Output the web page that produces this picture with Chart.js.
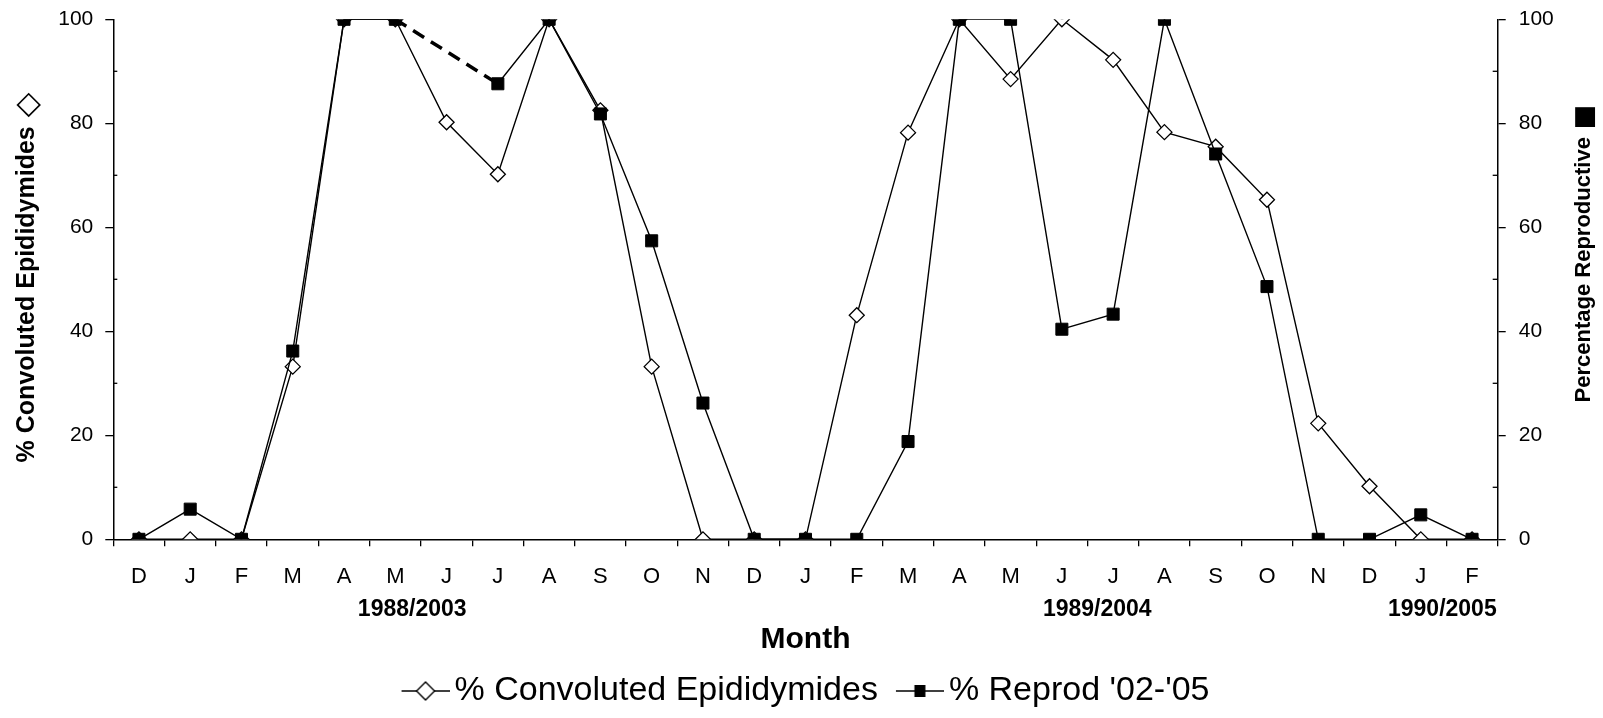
<!DOCTYPE html>
<html>
<head>
<meta charset="utf-8">
<script src="https://cdn.jsdelivr.net/npm/chart.js@4.4.1/dist/chart.umd.min.js"></script>
<style>
  html, body { margin: 0; padding: 0; background: #fff; }
  #wrap { width: 1603px; height: 718px; position: relative; }
</style>
</head>
<body>
<div id="wrap"><canvas id="c"></canvas></div>
<script>
// ---- data ----
const months = ['D','J','F','M','A','M','J','J','A','S','O','N','D','J','F','M','A','M','J','J','A','S','O','N','D','J','F'];
const convoluted = [0,0,0,33.2,100,100,80.2,70.2,100,82.5,33.2,0,0,0,43.1,78.2,100,88.5,100,92.2,78.3,75.5,65.3,22.3,10.2,0,0];
const reprod = [0,5.8,0,36.2,100,100,null,87.6,100,81.8,57.4,26.2,0,0,0,18.8,100,100,40.4,43.3,100,74.1,48.6,0,0,4.7,0];
const yTicks = [0,20,40,60,80,100];
const yMinorTicks = [10,30,50,70,90];
const yearLabels = ['1988/2003','1989/2004','1990/2005'];
const seriesNames = ['% Convoluted Epididymides', "% Reprod '02-'05"];
const leftTitle = '% Convoluted Epididymides';
const leftSymbol = '\u25C7';
const rightTitle = 'Percentage Reproductive';
const rightSymbol = '\u25A0';
const xTitle = 'Month';

const FONT = '"Liberation Sans", Arial, Helvetica, sans-serif';
Chart.defaults.font.family = FONT;
Chart.defaults.color = '#000';

// legend icons: line + marker
function makeIcon(kind) {
  const c = document.createElement('canvas');
  c.width = 68; c.height = 24;
  const g = c.getContext('2d');
  const cx = 44, cy = 12;
  g.strokeStyle = '#000'; g.lineWidth = 1.5;
  g.beginPath(); g.moveTo(20, cy); g.lineTo(68, cy); g.stroke();
  if (kind === 'diamond') {
    const r = 9;
    g.beginPath();
    g.moveTo(cx, cy - r); g.lineTo(cx + r, cy); g.lineTo(cx, cy + r); g.lineTo(cx - r, cy); g.closePath();
    g.fillStyle = '#fff'; g.fill(); g.lineWidth = 1.4; g.stroke();
  } else {
    g.fillStyle = '#000'; g.fillRect(cx - 5.5, cy - 6, 11, 12);
  }
  return c;
}
const icons = [makeIcon('diamond'), makeIcon('square')];

function drawRotTitle(ctx, text, sym, cx, cy, textFont, symFont, gap) {
  ctx.save();
  ctx.translate(cx, cy);
  ctx.rotate(-Math.PI / 2);
  ctx.textAlign = 'left'; ctx.textBaseline = 'middle';
  ctx.font = textFont; const tw = ctx.measureText(text).width;
  ctx.font = symFont; const sw = ctx.measureText(sym).width;
  const x0 = -(tw + gap + sw) / 2;
  ctx.font = textFont; ctx.fillText(text, x0, 0);
  ctx.font = symFont; ctx.fillText(sym, x0 + tw + gap, 1);
  ctx.restore();
}

const extras = {
  id: 'extras',
  afterDraw(chart) {
    const ctx = chart.ctx;
    const x = chart.scales.x, yl = chart.scales.y, yr = chart.scales.y1;
    ctx.save();
    // minor ticks (inside)
    ctx.strokeStyle = '#000'; ctx.lineWidth = 1.3;
    yMinorTicks.forEach(v => {
      const py = yl.getPixelForValue(v);
      ctx.beginPath(); ctx.moveTo(yl.right, py); ctx.lineTo(yl.right + 4, py); ctx.stroke();
      const py2 = yr.getPixelForValue(v);
      ctx.beginPath(); ctx.moveTo(yr.left, py2); ctx.lineTo(yr.left - 5, py2); ctx.stroke();
    });
    // year labels under the month ticks
    const yearAt = [5.33, 18.69, 25.42];
    ctx.fillStyle = '#000';
    ctx.font = 'bold 23px ' + FONT;
    ctx.textAlign = 'center'; ctx.textBaseline = 'middle';
    yearLabels.forEach((t, i) => ctx.fillText(t, x.getPixelForValue(yearAt[i]), 610));
    // axis titles, both reading bottom to top
    drawRotTitle(ctx, leftTitle, leftSymbol, 27.5, 277.5, 'bold 25px ' + FONT, '32px "DejaVu Sans"', 9);
    drawRotTitle(ctx, rightTitle, rightSymbol, 1584, 253.5, 'bold 22px ' + FONT, '26px "DejaVu Sans"', 8);
    ctx.restore();
  }
};

function yScale(position, extra) {
  return Object.assign({
    type: 'linear', position, min: 0, max: 100,
    afterBuildTicks: s => { s.ticks = yTicks.map(v => ({ value: v })); },
    grid: { drawOnChartArea: false, drawTicks: true, tickLength: 8, color: '#000', lineWidth: 1.3 },
    border: { display: true, color: '#000', width: 1.5 },
    ticks: { font: { size: 21 }, color: '#000', padding: 12 },
    title: { display: false }
  }, extra);
}

const gapDash = (c, v) => (c.p0.skip || c.p1.skip ? v : undefined);

new Chart(document.getElementById('c'), {
  type: 'line',
  data: {
    labels: months,
    datasets: [
      {
        label: seriesNames[0], data: convoluted, yAxisID: 'y',
        borderColor: '#000', borderWidth: 1.4,
        pointStyle: 'rectRot', pointRadius: 7.5,
        pointBackgroundColor: '#fff', pointBorderColor: '#000', pointBorderWidth: 1.3,
        tension: 0, order: 1
      },
      {
        label: seriesNames[1], data: reprod, yAxisID: 'y1',
        borderColor: '#000', borderWidth: 1.4, spanGaps: true,
        pointStyle: 'rect', pointRadius: 8.5,
        pointBackgroundColor: '#000', pointBorderColor: '#000', pointBorderWidth: 1,
        tension: 0, order: 0,
        segment: {
          borderDash: c => gapDash(c, [13, 8]),
          borderWidth: c => gapDash(c, 3.5)
        }
      }
    ]
  },
  options: {
    responsive: true, maintainAspectRatio: false, animation: false,
    layout: { padding: { top: 19.3, left: 0, right: 0, bottom: 0 } },
    plugins: {
      tooltip: { enabled: false },
      legend: {
        position: 'bottom',
        labels: {
          usePointStyle: true, pointStyleWidth: 44, padding: 10,
          font: { size: 34 }, color: '#000',
          sort: (a, b) => a.datasetIndex - b.datasetIndex,
          generateLabels(chart) {
            const items = Chart.defaults.plugins.legend.labels.generateLabels(chart);
            items.forEach(it => { it.pointStyle = icons[it.datasetIndex]; });
            return items;
          }
        }
      }
    },
    scales: {
      x: {
        type: 'category', offset: true,
        afterFit: s => { s.height = 124.7; s.paddingLeft = 0; s.paddingRight = 0; },
        grid: { offset: true, drawOnChartArea: false, drawTicks: true, tickLength: 7, color: '#000', lineWidth: 1.3 },
        border: { display: true, color: '#000', width: 1.5 },
        ticks: { font: { size: 22 }, color: '#000', padding: 17, maxRotation: 0, autoSkip: false },
        title: { display: true, text: xTitle, font: { size: 30, weight: 'bold' }, color: '#000', padding: { top: 0, bottom: 6 } }
      },
      y: yScale('left', {
        afterFit: s => { s.width = 113.3; s.paddingTop = 0; s.paddingBottom = 0; }
      }),
      y1: yScale('right', {
        afterFit: s => { s.width = 105.3; s.paddingTop = 0; s.paddingBottom = 0; },
        ticks: { font: { size: 21 }, color: '#000', padding: 13 }
      })
    }
  },
  plugins: [extras]
});
</script>
</body>
</html>
